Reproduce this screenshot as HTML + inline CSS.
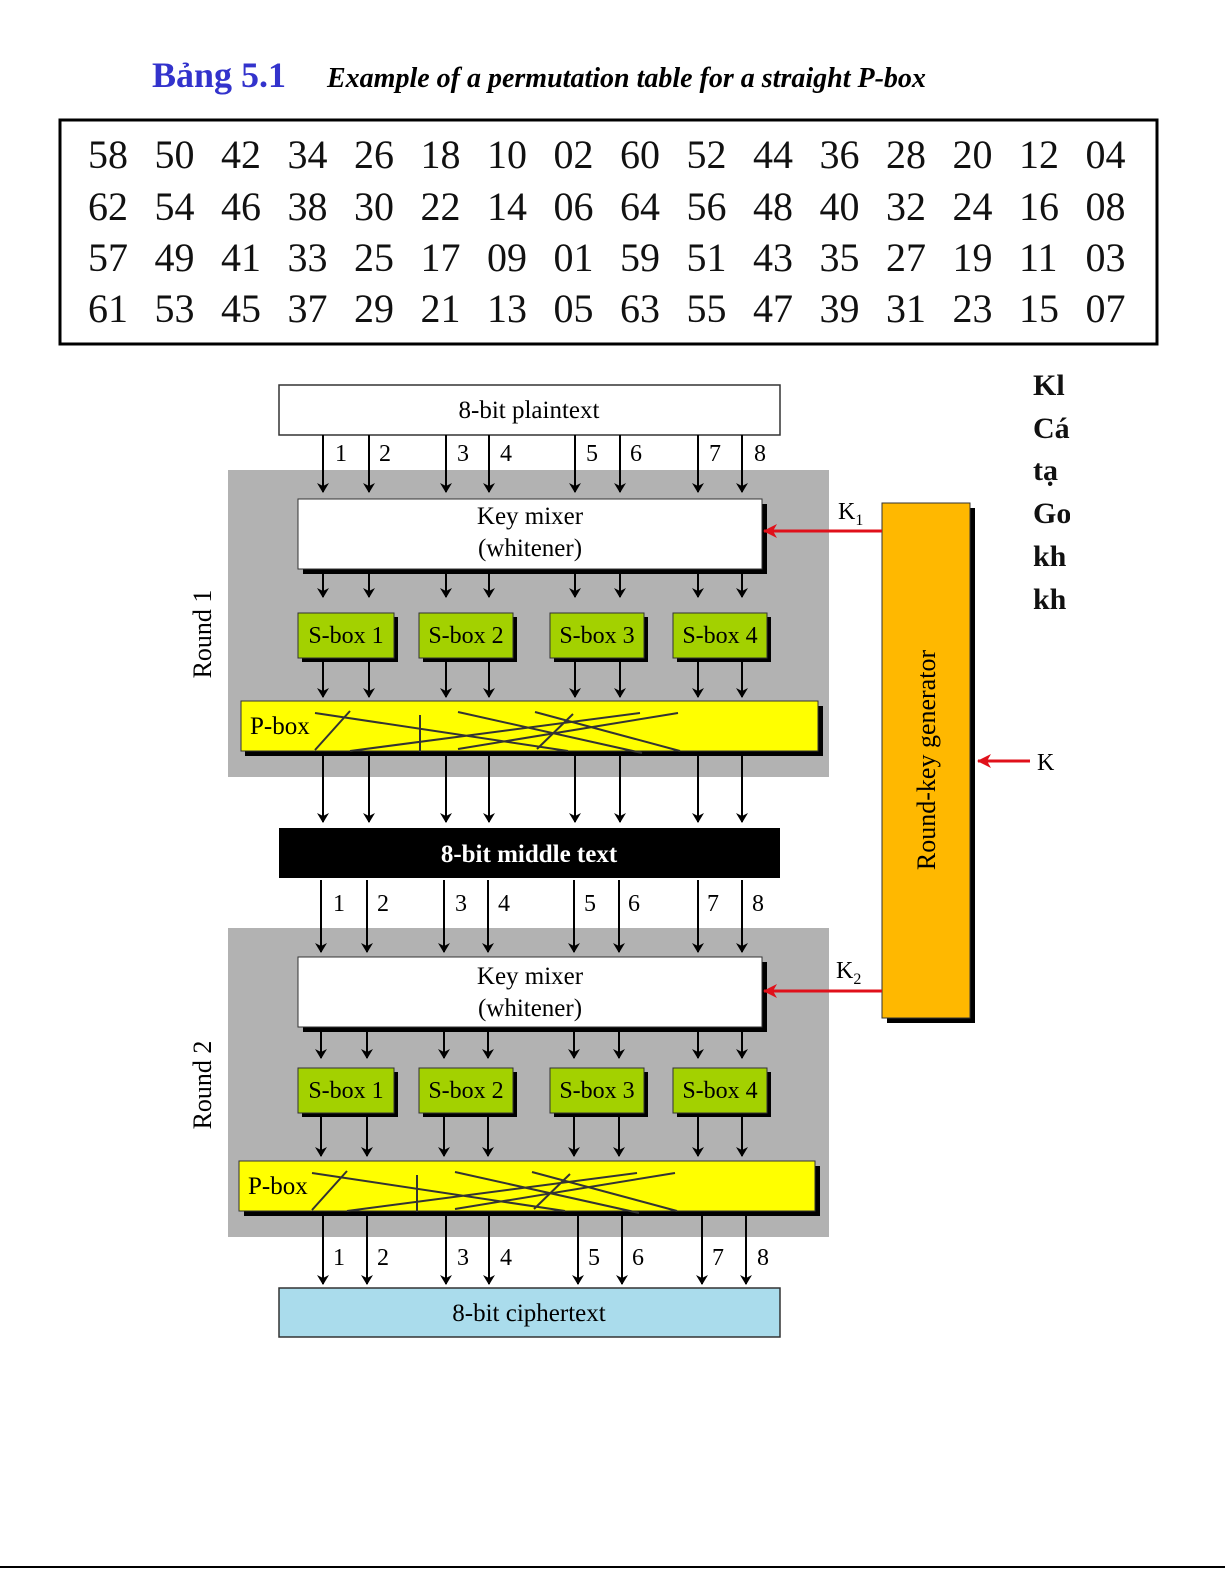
<!DOCTYPE html>
<html><head><meta charset="utf-8"><style>
html,body{margin:0;padding:0;background:#fff;}
svg{display:block;}
svg text{font-family:"Liberation Serif",serif;}
</style></head><body>
<svg width="1225" height="1585" viewBox="0 0 1225 1585" xmlns="http://www.w3.org/2000/svg">
<defs>
<marker id="ah" markerWidth="10" markerHeight="12" refX="9" refY="6" orient="auto" markerUnits="userSpaceOnUse"><path d="M0,0 L10,6 L0,12 L3,6 Z" fill="#000"/></marker>
<marker id="rh" markerWidth="14" markerHeight="14" refX="13" refY="7" orient="auto" markerUnits="userSpaceOnUse"><path d="M0,0 L14,7 L0,14 L4,7 Z" fill="#e0101a"/></marker>
</defs>
<text x="152" y="87" font-size="36" font-weight="bold" fill="#3333cc">Bảng  5.1</text>
<text x="327" y="87" font-size="28" font-weight="bold" font-style="italic" fill="#000">Example of a permutation table for a straight P-box</text>
<rect x="60" y="120" width="1097" height="224" fill="none" stroke="#000" stroke-width="3"/>
<g font-size="40" fill="#111">
<text y="168"><tspan x="88">58</tspan><tspan x="154.5">50</tspan><tspan x="221">42</tspan><tspan x="287.5">34</tspan><tspan x="354">26</tspan><tspan x="420.5">18</tspan><tspan x="487">10</tspan><tspan x="553.5">02</tspan><tspan x="620">60</tspan><tspan x="686.5">52</tspan><tspan x="753">44</tspan><tspan x="819.5">36</tspan><tspan x="886">28</tspan><tspan x="952.5">20</tspan><tspan x="1019">12</tspan><tspan x="1085.5">04</tspan></text>
<text y="220"><tspan x="88">62</tspan><tspan x="154.5">54</tspan><tspan x="221">46</tspan><tspan x="287.5">38</tspan><tspan x="354">30</tspan><tspan x="420.5">22</tspan><tspan x="487">14</tspan><tspan x="553.5">06</tspan><tspan x="620">64</tspan><tspan x="686.5">56</tspan><tspan x="753">48</tspan><tspan x="819.5">40</tspan><tspan x="886">32</tspan><tspan x="952.5">24</tspan><tspan x="1019">16</tspan><tspan x="1085.5">08</tspan></text>
<text y="271"><tspan x="88">57</tspan><tspan x="154.5">49</tspan><tspan x="221">41</tspan><tspan x="287.5">33</tspan><tspan x="354">25</tspan><tspan x="420.5">17</tspan><tspan x="487">09</tspan><tspan x="553.5">01</tspan><tspan x="620">59</tspan><tspan x="686.5">51</tspan><tspan x="753">43</tspan><tspan x="819.5">35</tspan><tspan x="886">27</tspan><tspan x="952.5">19</tspan><tspan x="1019">11</tspan><tspan x="1085.5">03</tspan></text>
<text y="322"><tspan x="88">61</tspan><tspan x="154.5">53</tspan><tspan x="221">45</tspan><tspan x="287.5">37</tspan><tspan x="354">29</tspan><tspan x="420.5">21</tspan><tspan x="487">13</tspan><tspan x="553.5">05</tspan><tspan x="620">63</tspan><tspan x="686.5">55</tspan><tspan x="753">47</tspan><tspan x="819.5">39</tspan><tspan x="886">31</tspan><tspan x="952.5">23</tspan><tspan x="1019">15</tspan><tspan x="1085.5">07</tspan></text>
</g>
<g font-size="30" font-weight="bold" fill="#111">
<text x="1033" y="395">Kl</text><text x="1033" y="438">Cá</text><text x="1033" y="480">tạ</text><text x="1033" y="523">Go</text><text x="1033" y="566">kh</text><text x="1033" y="609">kh</text>
</g>
<rect x="1070" y="360" width="155" height="270" fill="#fff"/>

<rect x="228" y="470" width="601" height="307" fill="#b2b2b2"/>
<rect x="228" y="928" width="601" height="309" fill="#b2b2b2"/>
<text transform="translate(211,634) rotate(-90)" font-size="26" text-anchor="middle">Round 1</text>
<text transform="translate(211,1085) rotate(-90)" font-size="26" text-anchor="middle">Round 2</text>

<rect x="279" y="385" width="501" height="50" fill="#fff" stroke="#333" stroke-width="1.5"/>
<text x="529" y="418" font-size="25" text-anchor="middle">8-bit plaintext</text>

<g stroke="#000" stroke-width="2" marker-end="url(#ah)">
<path d="M323 435V492"/><path d="M369 435V492"/><path d="M446 435V492"/><path d="M489 435V492"/><path d="M575 435V492"/><path d="M620 435V492"/><path d="M698 435V492"/><path d="M742 435V492"/>
<path d="M323 570V597"/><path d="M369 570V597"/><path d="M446 570V597"/><path d="M489 570V597"/><path d="M575 570V597"/><path d="M620 570V597"/><path d="M698 570V597"/><path d="M742 570V597"/>
<path d="M323 660V697"/><path d="M369 660V697"/><path d="M446 660V697"/><path d="M489 660V697"/><path d="M575 660V697"/><path d="M620 660V697"/><path d="M698 660V697"/><path d="M742 660V697"/>
<path d="M323 754V822"/><path d="M369 754V822"/><path d="M446 754V822"/><path d="M489 754V822"/><path d="M575 754V822"/><path d="M620 754V822"/><path d="M698 754V822"/><path d="M742 754V822"/>
<path d="M321 880V952"/><path d="M367 880V952"/><path d="M444 880V952"/><path d="M488 880V952"/><path d="M574 880V952"/><path d="M619 880V952"/><path d="M698 880V952"/><path d="M742 880V952"/>
<path d="M321 1030V1058"/><path d="M367 1030V1058"/><path d="M444 1030V1058"/><path d="M488 1030V1058"/><path d="M574 1030V1058"/><path d="M619 1030V1058"/><path d="M698 1030V1058"/><path d="M742 1030V1058"/>
<path d="M321 1115V1156"/><path d="M367 1115V1156"/><path d="M444 1115V1156"/><path d="M488 1115V1156"/><path d="M574 1115V1156"/><path d="M619 1115V1156"/><path d="M698 1115V1156"/><path d="M742 1115V1156"/>
<path d="M323 1214V1284"/><path d="M367 1214V1284"/><path d="M446 1214V1284"/><path d="M489 1214V1284"/><path d="M578 1214V1284"/><path d="M622 1214V1284"/><path d="M702 1214V1284"/><path d="M746 1214V1284"/>
</g>
<g font-size="24">
<text x="335" y="461">1</text><text x="379" y="461">2</text><text x="457" y="461">3</text><text x="500" y="461">4</text><text x="586" y="461">5</text><text x="630" y="461">6</text><text x="709" y="461">7</text><text x="754" y="461">8</text>
<text x="333" y="911">1</text><text x="377" y="911">2</text><text x="455" y="911">3</text><text x="498" y="911">4</text><text x="584" y="911">5</text><text x="628" y="911">6</text><text x="707" y="911">7</text><text x="752" y="911">8</text>
<text x="333" y="1265">1</text><text x="377" y="1265">2</text><text x="457" y="1265">3</text><text x="500" y="1265">4</text><text x="588" y="1265">5</text><text x="632" y="1265">6</text><text x="712" y="1265">7</text><text x="757" y="1265">8</text>
</g>

<rect x="303" y="504" width="464" height="70" fill="#000"/>
<rect x="298" y="499" width="464" height="70" fill="#fff" stroke="#333"/>
<text x="530" y="524" font-size="25" text-anchor="middle">Key mixer</text>
<text x="530" y="556" font-size="25" text-anchor="middle">(whitener)</text>
<g font-size="24" text-anchor="middle">
<rect x="302" y="617" width="96" height="45" fill="#000"/><rect x="298" y="613" width="96" height="45" fill="#a3d100" stroke="#333"/><text x="346" y="643">S-box 1</text>
<rect x="423" y="617" width="94" height="45" fill="#000"/><rect x="419" y="613" width="94" height="45" fill="#a3d100" stroke="#333"/><text x="466" y="643">S-box 2</text>
<rect x="554" y="617" width="94" height="45" fill="#000"/><rect x="550" y="613" width="94" height="45" fill="#a3d100" stroke="#333"/><text x="597" y="643">S-box 3</text>
<rect x="677" y="617" width="94" height="45" fill="#000"/><rect x="673" y="613" width="94" height="45" fill="#a3d100" stroke="#333"/><text x="720" y="643">S-box 4</text>
</g>
<rect x="245" y="706" width="578" height="50" fill="#000"/>
<rect x="241" y="701" width="577" height="50" fill="#ffff00" stroke="#333"/>
<text x="250" y="734" font-size="25">P-box</text>
<g stroke="#333" stroke-width="2" fill="none">
<path d="M315 750L350 711M315 713L568 751M350 751L640 713M420 715V752M458 712L642 753M458 749L678 713M535 712L680 751M537 749L573 714"/>
</g>

<rect x="279" y="828" width="501" height="50" fill="#000"/>
<text x="529" y="862" font-size="25" font-weight="bold" fill="#fff" text-anchor="middle">8-bit middle text</text>

<rect x="303" y="962" width="464" height="70" fill="#000"/>
<rect x="298" y="957" width="464" height="70" fill="#fff" stroke="#333"/>
<text x="530" y="984" font-size="25" text-anchor="middle">Key mixer</text>
<text x="530" y="1016" font-size="25" text-anchor="middle">(whitener)</text>
<g font-size="24" text-anchor="middle">
<rect x="302" y="1072" width="96" height="45" fill="#000"/><rect x="298" y="1068" width="96" height="45" fill="#a3d100" stroke="#333"/><text x="346" y="1098">S-box 1</text>
<rect x="423" y="1072" width="94" height="45" fill="#000"/><rect x="419" y="1068" width="94" height="45" fill="#a3d100" stroke="#333"/><text x="466" y="1098">S-box 2</text>
<rect x="554" y="1072" width="94" height="45" fill="#000"/><rect x="550" y="1068" width="94" height="45" fill="#a3d100" stroke="#333"/><text x="597" y="1098">S-box 3</text>
<rect x="677" y="1072" width="94" height="45" fill="#000"/><rect x="673" y="1068" width="94" height="45" fill="#a3d100" stroke="#333"/><text x="720" y="1098">S-box 4</text>
</g>
<rect x="244" y="1166" width="576" height="50" fill="#000"/>
<rect x="239" y="1161" width="576" height="50" fill="#ffff00" stroke="#333"/>
<text x="248" y="1194" font-size="25">P-box</text>
<g stroke="#333" stroke-width="2" fill="none" transform="translate(-3,460)">
<path d="M315 750L350 711M315 713L568 751M350 751L640 713M420 715V752M458 712L642 753M458 749L678 713M535 712L680 751M537 749L573 714"/>
</g>

<rect x="279" y="1288" width="501" height="49" fill="#aadcec" stroke="#333" stroke-width="1.5"/>
<text x="529" y="1321" font-size="25" text-anchor="middle">8-bit ciphertext</text>

<rect x="887" y="508" width="88" height="515" fill="#000"/>
<rect x="882" y="503" width="88" height="515" fill="#ffb800" stroke="#333"/>
<text transform="translate(935,760) rotate(-90)" font-size="26" text-anchor="middle">Round-key generator</text>
<g stroke="#e0101a" stroke-width="3" marker-end="url(#rh)">
<path d="M882 531H764"/><path d="M882 991H764"/><path d="M1030 761H978"/>
</g>
<text x="838" y="519" font-size="24">K<tspan font-size="16" dy="6">1</tspan></text>
<text x="836" y="978" font-size="24">K<tspan font-size="16" dy="6">2</tspan></text>
<text x="1037" y="770" font-size="24">K</text>

<rect x="0" y="1566" width="1225" height="2" fill="#000"/>
</svg>
</body></html>
